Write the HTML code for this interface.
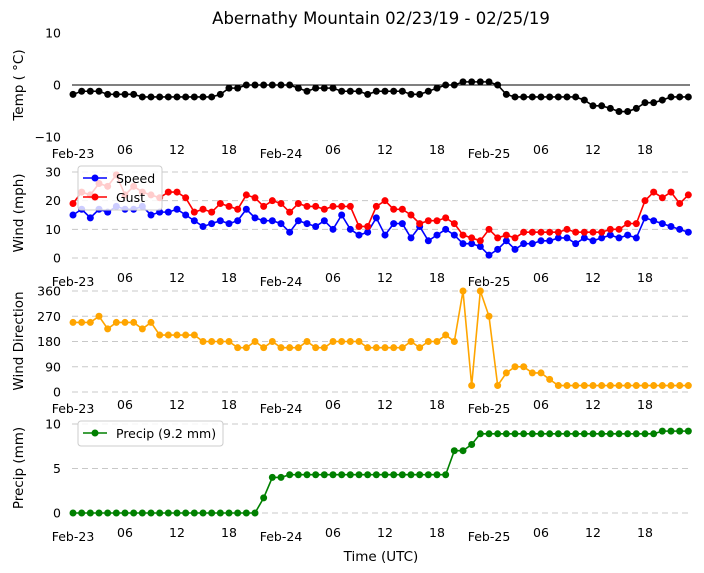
<!DOCTYPE html>
<html><head><meta charset="utf-8"><style>
body{margin:0;background:#fff}
svg{display:block;font-family:"DejaVu Sans","Liberation Sans",sans-serif}
</style></head><body>
<svg id="c" width="704" height="573" viewBox="0 0 704 573"></svg>
<script>
const temps=[-1.8,-1.2,-1.2,-1.2,-1.8,-1.8,-1.8,-1.8,-2.3,-2.3,-2.3,-2.3,-2.3,-2.3,-2.3,-2.3,-2.3,-1.8,-0.6,-0.6,0,0,0,0,0,0,-0.6,-1.2,-0.6,-0.6,-0.6,-1.2,-1.2,-1.2,-1.8,-1.2,-1.2,-1.2,-1.2,-1.8,-1.8,-1.2,-0.6,0,0,0.6,0.6,0.6,0.6,0,-1.8,-2.3,-2.3,-2.3,-2.3,-2.3,-2.3,-2.3,-2.3,-2.9,-4,-4,-4.5,-5.1,-5.1,-4.5,-3.4,-3.4,-2.9,-2.3,-2.3,-2.3];
const speed=[15,17,14,17,16,18,17,17,18,15,16,16,17,15,13,11,12,13,12,13,17,14,13,13,12,9,13,12,11,13,10,15,10,8,9,14,8,12,12,7,11,6,8,10,8,5,5,4,1,3,6,3,5,5,6,6,7,7,5,7,6,7,8,7,8,7,14,13,12,11,10,9];
const gust=[19,23,22,26,25,29,22,25,23,22,21,23,23,21,16,17,16,19,18,17,22,21,18,20,19,16,19,18,18,17,18,18,18,11,11,18,20,17,17,15,12,13,13,14,12,8,7,6,10,7,8,7,9,9,9,9,9,10,9,9,9,9,10,10,12,12,20,23,21,23,19,22];
const direction=[248,248,248,270,225,248,248,248,225,248,203,203,203,203,203,180,180,180,180,158,158,180,158,180,158,158,158,180,158,158,180,180,180,180,158,158,158,158,158,180,158,180,180,203,180,360,23,360,270,23,68,90,90,68,68,45,23,23,23,23,23,23,23,23,23,23,23,23,23,23,23,23];
const precip=[0,0,0,0,0,0,0,0,0,0,0,0,0,0,0,0,0,0,0,0,0,0,1.7,4,4,4.3,4.3,4.3,4.3,4.3,4.3,4.3,4.3,4.3,4.3,4.3,4.3,4.3,4.3,4.3,4.3,4.3,4.3,4.3,7,7,7.7,8.9,8.9,8.9,8.9,8.9,8.9,8.9,8.9,8.9,8.9,8.9,8.9,8.9,8.9,8.9,8.9,8.9,8.9,8.9,8.9,8.9,9.2,9.2,9.2,9.2];
const xTickLabels=["Feb-23","06","12","18","Feb-24","06","12","18","Feb-25","06","12","18"];
const tempTicks=[-10,0,10], windTicks=[0,10,20,30], dirTicks=[0,90,180,270,360], precipTicks=[0,5,10];

const svg=document.getElementById('c');
const NS='http://www.w3.org/2000/svg';
function el(tag,attrs,parent){const e=document.createElementNS(NS,tag);for(const k in attrs)e.setAttribute(k,attrs[k]);(parent||svg).appendChild(e);return e;}
const X0=73,DX=208/24;
const xs=i=>X0+i*DX;
function yScale(v0,p0,v1,p1){return v=>p0+(v-v0)*(p1-p0)/(v1-v0);}

const panels=[
 {name:'temp',y:yScale(0,85,10,33),ticks:tempTicks,lab:'Temp ( °C)',grid:false,labY:85,xlabY:158},
 {name:'wind',y:yScale(0,258,30,172),ticks:windTicks,lab:'Wind (mph)',grid:true,labY:213,xlabY:286},
 {name:'direction',y:yScale(0,392,360,291),ticks:dirTicks,lab:'Wind Direction',grid:true,labY:341,xlabY:413},
 {name:'precip',y:yScale(0,513,10,424),ticks:precipTicks,lab:'Precip (mm)',grid:true,labY:468,xlabY:541}
];
panels.forEach(p=>{
 const g=el('g',{});
 
 
 p.g=g;
 p.ticks.forEach(t=>{
  const yy=p.y(t);
  if(p.grid){const l=el('line',{x1:72,x2:690,y1:yy,y2:yy,stroke:'#c8c8c8','stroke-width':1,'stroke-dasharray':'6,4'},g);
   }
  const tx=el('text',{x:61,y:yy+4.5,'text-anchor':'end','font-size':12.5,fill:'#000'},g);tx.textContent=String(t).replace('-','\u2212');
  
 });
 const yl=el('text',{x:0,y:0,transform:`translate(23,${p.labY}) rotate(-90)`,'text-anchor':'middle','font-size':13.5},g);
 yl.textContent=p.lab;
 
 xTickLabels.forEach((s,i)=>{
  const isDay=s.startsWith('Feb');
  const tx=el('text',{x:xs(i*6),y:p.xlabY+(isDay?0:-4),'text-anchor':'middle','font-size':12.5},g);
  tx.textContent=s;
  
 });
});
const zl=el('line',{x1:72,x2:690,y1:85,y2:85,stroke:'#000','stroke-width':1},panels[0].g);


function series(p,data,color,name){
 const g=el('g',{},p.g);
 
 
 el('polyline',{points:data.map((v,i)=>xs(i)+','+p.y(v)).join(' '),fill:'none',stroke:color,'stroke-width':1.6},g);
 data.forEach((v,i)=>{const c=el('circle',{cx:xs(i),cy:p.y(v),r:3.5,fill:color},g);
  });
}
series(panels[0],temps,'#000','temp-series');
series(panels[1],speed,'#0000ff','speed-series');
series(panels[1],gust,'#ff0000','gust-series');
series(panels[2],direction,'#ffa500','direction-series');
series(panels[3],precip,'#008000','precip-series');

function legend(x,y,w,entries,name){
 const g=el('g',{});
 
 
 el('rect',{x:x,y:y,width:w,height:entries.length*19+6,rx:3,fill:'rgba(255,255,255,0.8)',stroke:'#ccc'},g);
 entries.forEach((e,i)=>{
  const yy=y+12+i*19;
  el('line',{x1:x+5,x2:x+29,y1:yy,y2:yy,stroke:e[1],'stroke-width':1.6},g);
  el('circle',{cx:x+17,cy:yy,r:3.5,fill:e[1]},g);
  const t=el('text',{x:x+38,y:yy+5,'font-size':12.5},g);t.textContent=e[0];
  
 });
}
legend(78,166,84,[['Speed','#0000ff'],['Gust','#ff0000']],'wind-legend');
legend(78,421,145,[['Precip (9.2 mm)','#008000']],'precip-legend');

const title=el('text',{x:381,y:24,'text-anchor':'middle','font-size':16.5});
title.textContent='Abernathy Mountain 02/23/19 - 02/25/19';

const xt=el('text',{x:381,y:561,'text-anchor':'middle','font-size':13.5});
xt.textContent='Time (UTC)';

</script>
</body></html>
